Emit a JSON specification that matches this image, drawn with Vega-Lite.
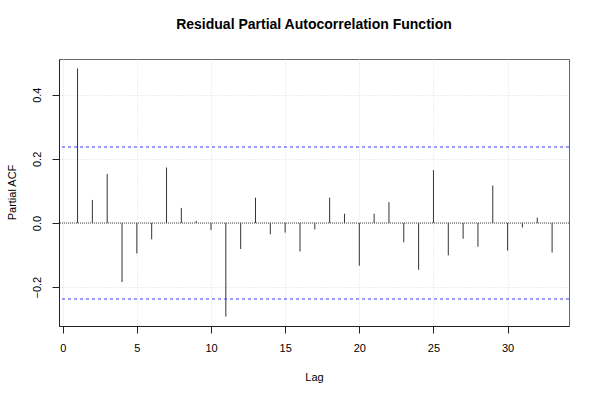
{
  "$schema": "https://vega.github.io/schema/vega-lite/v6.json",
  "width": 510,
  "height": 267,
  "autosize": {"type": "none"},
  "padding": {"left": 59, "top": 59, "right": 31, "bottom": 74},
  "background": "white",
  "config": {
    "font": "Liberation Sans",
    "view": {"stroke": "#666666", "strokeWidth": 1},
    "axis": {
      "labelFont": "Liberation Sans",
      "titleFont": "Liberation Sans",
      "labelFontSize": 11,
      "titleFontSize": 11,
      "labelColor": "#000000",
      "titleColor": "#000000",
      "titleFontWeight": "normal",
      "domainColor": "#222222",
      "tickColor": "#222222",
      "tickSize": 7,
      "gridColor": "#dddddd",
      "gridDash": [1, 2],
      "gridWidth": 1
    }
  },
  "title": {
    "text": "Residual Partial Autocorrelation Function",
    "font": "Liberation Sans",
    "fontSize": 14,
    "fontWeight": "bold",
    "anchor": "middle",
    "baseline": "alphabetic",
    "offset": 16,
    "color": "#000000"
  },
  "data": {
    "values": [
      {"lag": 1, "pacf": 0.482},
      {"lag": 2, "pacf": 0.072},
      {"lag": 3, "pacf": 0.153},
      {"lag": 4, "pacf": -0.184},
      {"lag": 5, "pacf": -0.095},
      {"lag": 6, "pacf": -0.051},
      {"lag": 7, "pacf": 0.173},
      {"lag": 8, "pacf": 0.047},
      {"lag": 9, "pacf": 0.007},
      {"lag": 10, "pacf": -0.022},
      {"lag": 11, "pacf": -0.292},
      {"lag": 12, "pacf": -0.081},
      {"lag": 13, "pacf": 0.079},
      {"lag": 14, "pacf": -0.035},
      {"lag": 15, "pacf": -0.030},
      {"lag": 16, "pacf": -0.089},
      {"lag": 17, "pacf": -0.020},
      {"lag": 18, "pacf": 0.079},
      {"lag": 19, "pacf": 0.029},
      {"lag": 20, "pacf": -0.133},
      {"lag": 21, "pacf": 0.029},
      {"lag": 22, "pacf": 0.065},
      {"lag": 23, "pacf": -0.060},
      {"lag": 24, "pacf": -0.146},
      {"lag": 25, "pacf": 0.165},
      {"lag": 26, "pacf": -0.101},
      {"lag": 27, "pacf": -0.049},
      {"lag": 28, "pacf": -0.074},
      {"lag": 29, "pacf": 0.117},
      {"lag": 30, "pacf": -0.086},
      {"lag": 31, "pacf": -0.014},
      {"lag": 32, "pacf": 0.017},
      {"lag": 33, "pacf": -0.092}
    ]
  },
  "layer": [
    {
      "mark": {"type": "rule", "color": "#333333", "strokeWidth": 1},
      "encoding": {
        "x": {
          "field": "lag",
          "type": "quantitative",
          "scale": {"domain": [-0.25, 34.14], "nice": false, "zero": false},
          "axis": {
            "values": [0, 5, 10, 15, 20, 25, 30],
            "title": "Lag",
            "labelPadding": 9,
            "titleY": 51,
            "titleBaseline": "middle",
            "labelFlush": false
          }
        },
        "y": {
          "field": "pacf",
          "type": "quantitative",
          "scale": {"domain": [-0.3212, 0.5114], "nice": false, "zero": false},
          "axis": {
            "values": [-0.2, 0, 0.2, 0.4],
            "format": ".1f",
            "title": "Partial ACF",
            "labelAngle": -90,
            "labelAlign": "center",
            "labelBaseline": "bottom",
            "labelPadding": 10,
            "titleX": -47,
            "titleY": 133,
            "titleAngle": -90,
            "titleAlign": "center",
            "titleBaseline": "middle",
            "labelFlush": false
          }
        },
        "y2": {"datum": 0}
      }
    },
    {
      "data": {"values": [{"z": 0}]},
      "mark": {"type": "rule", "color": "#444444", "strokeWidth": 1, "strokeDash": [1, 1]},
      "encoding": {"y": {"field": "z", "type": "quantitative"}}
    },
    {
      "data": {"values": [{"ci": 0.237}, {"ci": -0.237}]},
      "mark": {"type": "rule", "color": "#3a3aff", "strokeWidth": 1, "strokeDash": [3, 3]},
      "encoding": {"y": {"field": "ci", "type": "quantitative"}}
    }
  ]
}
